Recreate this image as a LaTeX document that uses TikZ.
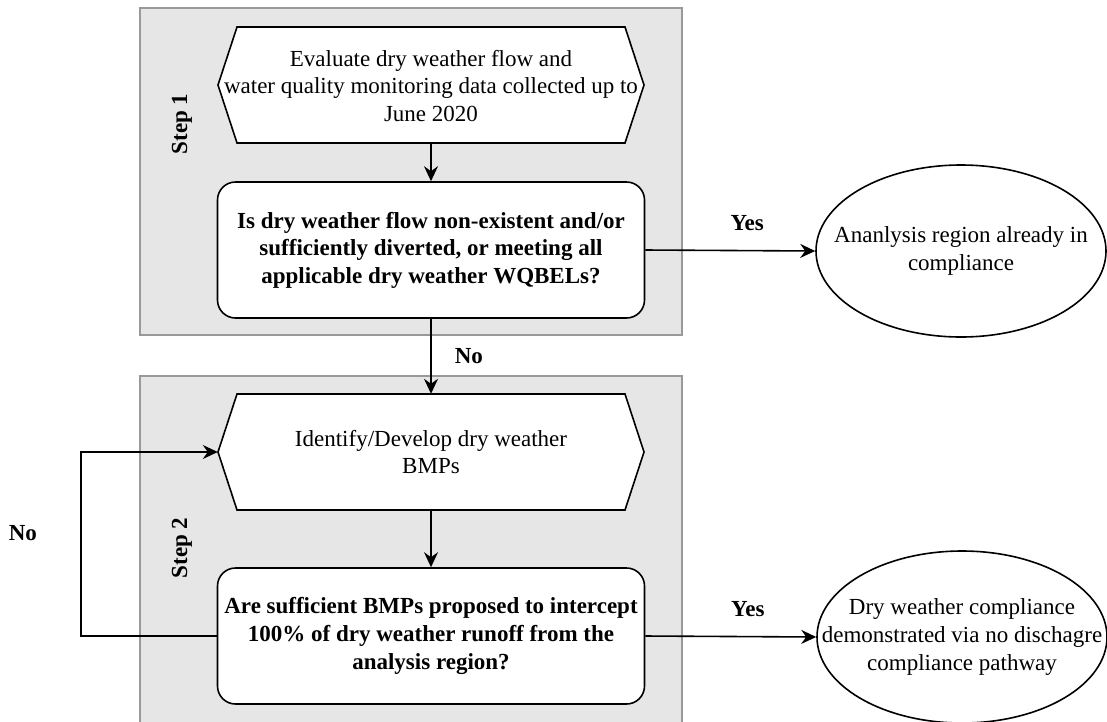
\documentclass[tikz,border=0pt]{standalone}
\usepackage{fontspec}
\setmainfont{Liberation Serif}
\usepackage{tikz}
\usetikzlibrary{shapes.geometric,arrows.meta,positioning,calc}
\definecolor{stepfill}{HTML}{E6E6E6}
\definecolor{stepedge}{HTML}{999999}

\begin{document}
\begin{tikzpicture}[x=1pt,y=-1pt,
    font=\fontsize{23}{27.6}\selectfont,
    stepbox/.style={fill=stepfill,draw=stepedge,line width=1.6pt},
    hexline/.style={fill=white,draw=black,line width=1.6pt},
    actbox/.style={rectangle,minimum width=426pt,minimum height=116pt,inner sep=0pt,align=center},
    decbox/.style={rectangle,draw,fill=white,line width=1.6pt,rounded corners=18pt,minimum width=427pt,minimum height=136pt,inner sep=0pt,align=center,font=\fontsize{23}{27.6}\selectfont\bfseries},
    endbox/.style={ellipse,draw,fill=white,line width=1.6pt,minimum width=290pt,minimum height=172pt,inner xsep=-40pt,inner ysep=0pt,align=center},
    steplabel/.style={rotate=90,font=\fontsize{23}{27.6}\selectfont\bfseries},
    flow/.style={-{Stealth[length=15pt,width=14pt,inset=5pt]},line width=1.6pt},
    lbl/.style={font=\fontsize{23}{27.6}\selectfont\bfseries,inner sep=0pt}]

    \useasboundingbox (0,0) rectangle (1107,721);
    \clip (0,0) rectangle (1107,721);

    % Step boxes
    \draw[stepbox] (140,8) rectangle (682,335);
    \draw[stepbox] (140,376) rectangle (682,740);
    \node[steplabel] (step1) at (182,124) {Step 1};
    \node[steplabel] (step2) at (182,548) {Step 2};

    % Step 1
    \filldraw[hexline] (218,85) -- ++(19,-58) -- ++(388,0) -- ++(19,58) -- ++(-19,58) -- ++(-388,0) -- cycle;
    \node[actbox] (evaluate) at (431,86) {Evaluate dry weather flow and\\water quality monitoring data collected up to\\June 2020};
    \node[decbox] (check) at (431,250) {Is dry weather flow non-existent and/or\\sufficiently diverted, or meeting all\\applicable dry weather WQBELs?};
    \node[endbox] (done) at (961,251) {Ananlysis region already in\\compliance};

    % Step 2
    \filldraw[hexline] (218,452) -- ++(19,-58) -- ++(388,0) -- ++(19,58) -- ++(-19,58) -- ++(-388,0) -- cycle;
    \node[actbox] (identify) at (431,452) {Identify/Develop dry weather\\BMPs};
    \node[decbox] (enough) at (431,636) {Are sufficient BMPs proposed to intercept\\100\% of dry weather runoff from the\\analysis region?};
    \node[endbox] (comply) at (962,637) {Dry weather compliance\\demonstrated via no dischagre\\compliance pathway};

    % Connectors
    \draw[flow] (evaluate) -- (check);
    \draw[flow] (check.east) -- node[lbl,pos=0.6,above=19pt] {Yes} (done.west);
    \draw[flow] (check) -- node[lbl,right=23pt] {No} (identify);
    \draw[flow] (identify) -- (enough);
    \draw[flow] (enough.east) -- node[lbl,pos=0.6,above=19pt] {Yes} (comply.west);
    \draw[flow] (enough.west) -- ++(-136,0) |- node[lbl,pos=0.28,left=43pt] {No} (identify.west);
\end{tikzpicture}
\end{document}
